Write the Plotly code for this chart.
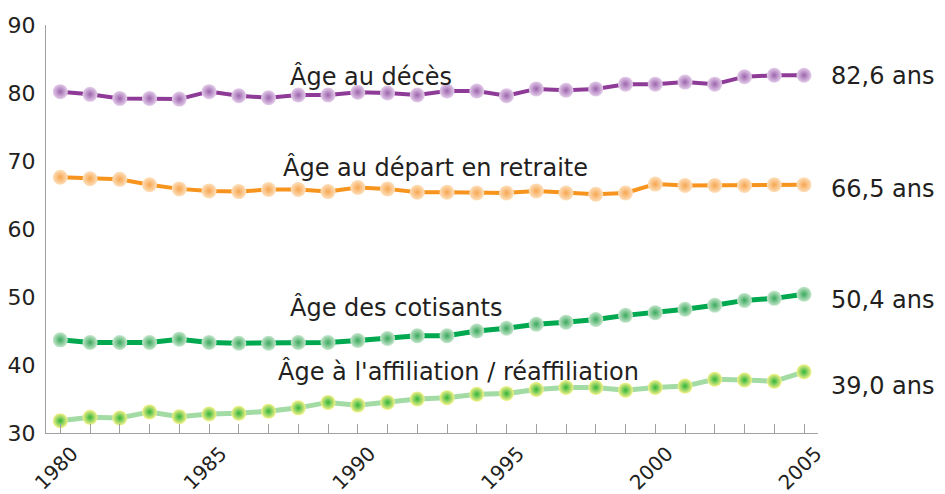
import plotly.graph_objects as go

years = list(range(1980, 2006))

age_deces = [80.2, 79.8, 79.2, 79.2, 79.1, 80.2, 79.6, 79.3, 79.7, 79.7,
             80.1, 80.0, 79.7, 80.3, 80.3, 79.6, 80.6, 80.4, 80.6, 81.3,
             81.3, 81.6, 81.3, 82.4, 82.6, 82.6]
age_retraite = [67.6, 67.4, 67.3, 66.5, 65.9, 65.6, 65.5, 65.8, 65.8, 65.5,
                66.1, 65.9, 65.4, 65.4, 65.3, 65.3, 65.6, 65.3, 65.1, 65.3,
                66.6, 66.4, 66.4, 66.4, 66.5, 66.5]
age_cotisants = [43.7, 43.3, 43.3, 43.3, 43.8, 43.3, 43.2, 43.2, 43.3, 43.3,
                 43.6, 43.9, 44.3, 44.3, 45.0, 45.4, 46.0, 46.3, 46.7, 47.3,
                 47.7, 48.2, 48.8, 49.5, 49.8, 50.4]
age_affiliation = [31.8, 32.3, 32.2, 33.1, 32.4, 32.8, 32.9, 33.2, 33.7, 34.5,
                   34.1, 34.5, 35.0, 35.2, 35.7, 35.8, 36.4, 36.7, 36.7, 36.3,
                   36.7, 36.9, 37.9, 37.8, 37.6, 39.0]

series_names = ["Âge au décès", "Âge au départ en retraite",
                "Âge des cotisants", "Âge à l'affiliation / réaffiliation"]

FONT = "DejaVu Sans"
TXT = "#231f20"

styles = [
    dict(line="#8e3b98", width=4, center="#e4cdea", edge="#9c64ad"),
    dict(line="#f7941d", width=4, center="#fde0bd", edge="#f7a650"),
    dict(line="#00a84f", width=5, center="#c6e6cc", edge="#3aa95c"),
    dict(line="#a3dba4", width=5, center="#f6f38a", edge="#2fb43c"),
]

data = [age_deces, age_retraite, age_cotisants, age_affiliation]

fig = go.Figure()
for name, vals, st in zip(series_names, data, styles):
    fig.add_trace(go.Scatter(
        x=years, y=vals, mode="lines+markers", name=name,
        line=dict(color=st["line"], width=st["width"]),
        marker=dict(size=15, color=st["center"],
                    gradient=dict(type="radial", color=st["edge"]),
                    line=dict(width=0)),
        showlegend=False, hoverinfo="x+y",
    ))

# series labels inside the plot
label_pos = [(1990.45, 82.5), (1992.6, 69.0), (1991.3, 48.4), (1993.4, 39.1)]
for name, (lx, ly) in zip(series_names, label_pos):
    fig.add_annotation(x=lx, y=ly, xref="x", yref="y", text=name,
                       showarrow=False, font=dict(family=FONT, size=24, color=TXT),
                       xanchor="center", yanchor="middle")

# end-value labels on the right
end_shift = [-1, -4, -6, -14]
for vals, ys in zip(data, end_shift):
    fig.add_annotation(x=years[-1], y=vals[-1], xref="x", yref="y",
                       text=f"{vals[-1]:.1f}".replace(".", ",") + " ans",
                       showarrow=False, xanchor="left", yanchor="middle",
                       xshift=25, yshift=ys,
                       font=dict(family=FONT, size=24, color=TXT))

tick_text = [str(y) if y % 5 == 0 else "" for y in years]

# page body has an 8px margin, so the figure is sized/offset to compensate
fig.update_layout(
    width=937, height=486,
    margin=dict(l=38, r=127, t=17, b=61),
    paper_bgcolor="white", plot_bgcolor="white",
    font=dict(family=FONT, color=TXT),
    xaxis=dict(range=[1979.52, 2005.47], tickvals=years, ticktext=tick_text,
               tickangle=-45, ticks="inside", ticklen=9, tickcolor="#a0a0a0",
               tickwidth=1, showline=True, linecolor="#a0a0a0", linewidth=1,
               showgrid=False, zeroline=False, automargin=False,
               ticklabelshift=12, ticklabelstandoff=0,
               tickfont=dict(family=FONT, size=20, color=TXT)),
    yaxis=dict(range=[30, 90], dtick=10, tick0=30, ticks="",
               showline=True, linecolor="#a0a0a0", linewidth=1,
               showgrid=False, zeroline=False, automargin=False,
               ticklabelstandoff=5,
               tickfont=dict(family=FONT, size=22, color=TXT)),
)

fig.write_html("out.html")
